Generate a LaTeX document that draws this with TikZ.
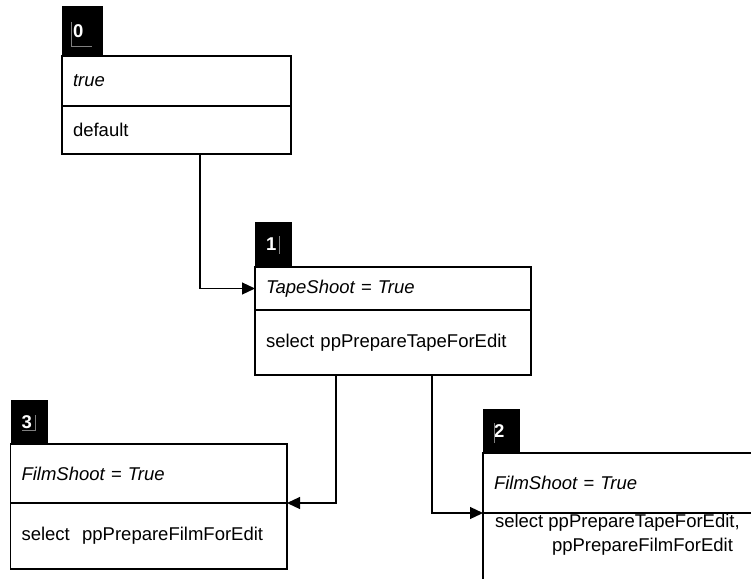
\documentclass[tikz,border=0pt]{standalone}
\usepackage{fontspec}
\setmainfont{Liberation Sans}
\usetikzlibrary{arrows.meta}
\begin{document}
\begin{tikzpicture}[x=1pt,y=-1pt,
  every node/.style={inner sep=0pt, outer sep=0pt, font=\fontsize{18.5}{24}\selectfont},
  statetab/.style={fill=black, text=white, font=\fontsize{18.5}{24}\selectfont\bfseries,
    anchor=south west, inner xsep=11pt, align=left, text width=#1},
  section/.style n args={2}{draw, line width=1.6pt, anchor=north west, inner xsep=11pt,
    align=left, text width=#1-22pt, minimum height=#2},
  conn/.style={line width=1.2pt, -{Triangle[length=13pt,width=12pt]}},
  caret/.style={line width=0.6pt, gray}]
\path[use as bounding box] (0,0) rectangle (751,578);
\clip (0,0) rectangle (751,578);

% state 0
\node[section={229pt}{50pt}] (cond0) at (62,56) {\itshape true};
\node[section={229pt}{48pt}] (act0) at (cond0.south west) {default};
\node[statetab=19pt, minimum height=50pt] (tab0) at (cond0.north west) {0};

% state 1
\node[section={276pt}{43pt}] (cond1) at (255,267) {\itshape TapeShoot = True};
\node[section={276pt}{65pt}] (act1) at (cond1.south west) {select ppPrepareTapeForEdit};
\node[statetab=15pt, minimum height=45pt] (tab1) at (cond1.north west) {1};

% state 3
\node[section={276.5pt}{59pt}] (cond3) at (10.5,444) {\itshape FilmShoot = True};
\node[section={276.5pt}{66pt}] (act3) at (cond3.south west) {select\ \ ppPrepareFilmForEdit};
\node[statetab=15pt, minimum height=44pt] (tab3) at (cond3.north west) {3};

% state 2 (runs past the right and bottom edges)
\node[section={320pt}{60pt}] (cond2) at (483,453) {\itshape FilmShoot = True};
\node[section={320pt}{100pt}] (act2) at (cond2.south west) {};
\node[anchor=north west, align=left] (act2text) at ([xshift=12pt,yshift=-1pt]act2.north west)
  {select ppPrepareTapeForEdit,\\\hspace*{57pt}ppPrepareFilmForEdit};
\node[statetab=15pt, minimum height=44pt] (tab2) at (cond2.north west) {2};

% transitions
\draw[conn] ([xshift=138pt]act0.south west) |- (cond1.west);
\draw[conn] ([xshift=81pt]act1.south west) |- (cond3.south east);
\draw[conn] ([xshift=177pt]act1.south west) |- (cond2.south west);

% text cursors left in the tabs
\draw[caret] (71,22) -- (71,46) -- (92,46);
\draw[caret] (279.5,236) -- (279.5,254);
\draw[caret] (22,430) -- (35,430) -- (35,415);
\draw[caret] (494.5,423) -- (494.5,443);
\end{tikzpicture}
\end{document}
